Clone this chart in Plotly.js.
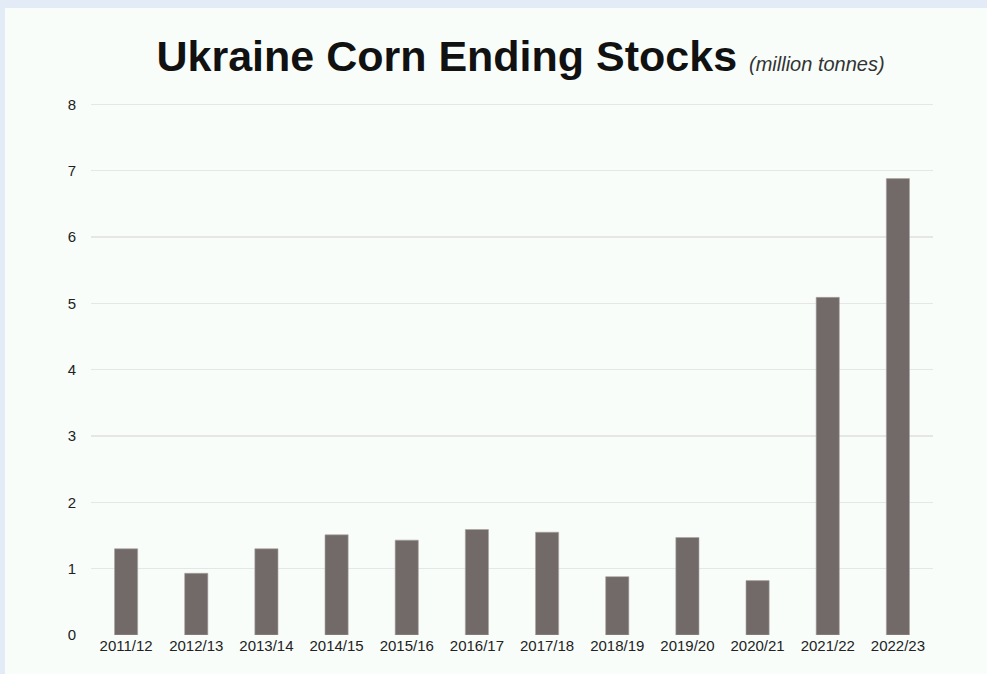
<!DOCTYPE html>
<html>
<head>
<meta charset="utf-8">
<script src="https://cdn.plot.ly/plotly-3.0.1.min.js"></script>
<style>
html, body { margin:0; padding:0; background:#e3ebf7; width:987px; height:674px; overflow:hidden; }
#chart { position:absolute; left:5px; top:8px; width:982px; height:666px; }
</style>
</head>
<body>
<div id="chart"></div>
<script>
const seasons = ["2011/12","2012/13","2013/14","2014/15","2015/16","2016/17","2017/18","2018/19","2019/20","2020/21","2021/22","2022/23"];
const endingStocks = [1.3, 0.93, 1.3, 1.51, 1.43, 1.59, 1.55, 0.88, 1.47, 0.82, 5.09, 6.88];
const yTicks = [0,1,2,3,4,5,6,7,8];

const trace = {
  type: 'bar',
  x: seasons,
  y: endingStocks,
  marker: { color: '#716a69', line: { color: '#a9a4a3', width: 0.6 } },
  hoverinfo: 'x+y'
};

const layout = {
  width: 982, height: 666,
  paper_bgcolor: '#f8fdfa',
  plot_bgcolor: '#f8fdfa',
  margin: { l: 86, r: 54, t: 95, b: 39 },
  bargap: 0.67,
  showlegend: false,
  title: {
    text: "<b>Ukraine Corn Ending Stocks</b> <i><span style='font-size:20px;color:#333'>(million tonnes)</span></i>",
    font: { family: 'Liberation Sans, Arial, sans-serif', size: 43, color: '#111' },
    xref: 'container', x: 0.525, xanchor: 'center',
    yref: 'container', y: 0.928, yanchor: 'middle'
  },
  xaxis: {
    tickfont: { family: 'Liberation Sans, Arial, sans-serif', size: 15, color: '#222' },
    showgrid: false, zeroline: false, showline: false, ticks: '',
    fixedrange: true
  },
  yaxis: {
    range: [0, 8.02],
    tickvals: yTicks,
    tickfont: { family: 'Liberation Sans, Arial, sans-serif', size: 15, color: '#222' },
    gridcolor: '#e6e6e6', gridwidth: 1.5,
    zeroline: false, showline: false, ticks: '',
    ticklabelstandoff: 14,
    fixedrange: true
  }
};

Plotly.newPlot('chart', [trace], layout, { displayModeBar: false, staticPlot: true });
</script>
</body>
</html>
